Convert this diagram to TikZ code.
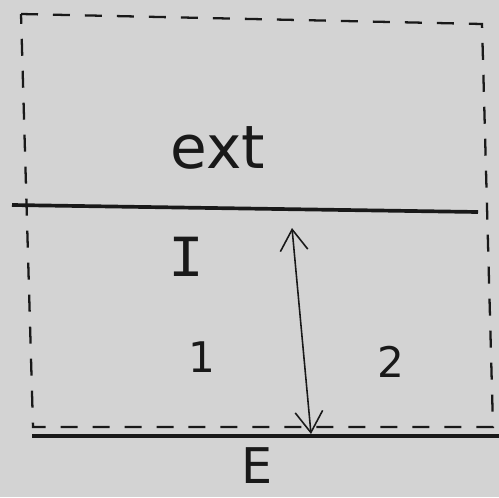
\documentclass[tikz,border=0pt]{standalone}
\usepackage{fontspec}
\setmainfont{DejaVu Sans}
\newfontfamily\barfont{Liberation Mono}
\usetikzlibrary{positioning,calc,arrows.meta}
\definecolor{sheetbg}{RGB}{211,211,211}
\definecolor{pencil}{RGB}{25,25,25}

\begin{document}
\begin{tikzpicture}[
  x=0.02cm, y=-0.02cm,
  bound/.style={draw=pencil, line width=1.3pt, dash pattern=on 0.34cm off 0.3cm},
  iface/.style={draw=pencil, line width=2.1pt},
  big/.style={font=\fontsize{34}{36}\selectfont, text=pencil, inner sep=0pt},
  small/.style={font=\fontsize{24}{26}\selectfont, text=pencil, inner sep=0pt},
  flux/.style={{Straight Barb[length=0.42cm, width=0.55cm]}-{Straight Barb[length=0.42cm, width=0.55cm]}, draw=pencil, line width=0.9pt}
]
% page
\fill[sheetbg] (0,0) rectangle (499,497);
\useasboundingbox (0,0) rectangle (499,497);

% control volume (dashed)
\draw[bound] (21,14) -- (482,24) -- (493,427) -- (33,427) -- cycle;

% interfaces
\coordinate (midL) at (12,205);
\coordinate (midR) at (478,212);
\coordinate (botL) at (32,436);
\coordinate (botR) at (499,436);
\draw[iface] (midL) -- (midR);
\draw[iface] (botL) -- (botR);

% labels
\node[big] (ext) at (218,148) {ext};
\node[big] (lay) at (186,257) {\barfont I};
\node[small] (one) at (202,357) {1};
\node[small] (two) at (391,362) {2};
\node[big, font=\fontsize{28}{30}\selectfont] (wall) at (257,466) {E};

% exchange arrow
\coordinate (arrtop) at (292,228);
\coordinate (arrbot) at (311,434);
\draw[flux] (arrtop) -- (arrbot);
\end{tikzpicture}
\end{document}
